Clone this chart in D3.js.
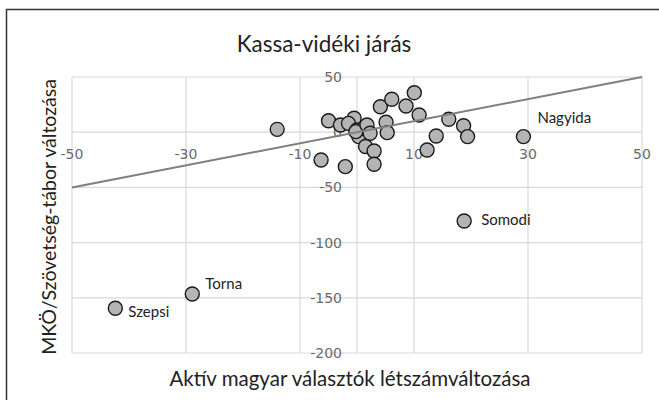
<!DOCTYPE html>
<html lang="hu">
<head>
<meta charset="UTF-8">
<title>Kassa-vidéki járás</title>
<script src="https://d3js.org/d3.v7.min.js"></script>
<style>
  body{margin:0;background:#fff}
  svg{display:block}
  .tick-lbl{font-family:"DejaVu Sans",sans-serif;font-size:14px;fill:#6a6a6a}
  .cal{font-family:Lato,"Open Sans",sans-serif;fill:#222}
</style>
</head>
<body>
<div id="chart"></div>
<script>
/* --- adatok --- */
const xVals=[-14.0,-5.0,-6.3,-2.05,-2.9,-0.5,-1.5,0,0.6,1.0,0.3,1.2,-0.2,1.75,2.3,1.5,3.0,3.0,
             4.1,6.1,5.1,5.3,8.6,10.05,10.9,12.3,13.9,16.1,18.7,19.4,29.2,-28.9,-42.4,18.8];
const yVals=[2.6,10.4,-25.2,-31.2,6.5,12.6,8,2,-1,0.5,-4,3.5,0.5,6.5,-1,-13,-17,-29,
             23,29.8,9,-0.4,23.7,35.8,15.6,-16.1,-3.4,11.7,5.9,-4.0,-4.0,-146.6,-159.5,-80.4];
const names=["","","","","","","","","","","","","","","","","","",
             "","","","","","","","","","","","","Nagyida","Torna","Szepsi","Somodi"];
const xTicks=[-50,-30,-10,10,30,50];
const yTicks=[50,0,-50,-100,-150,-200];
const lineX=[-50,50], lineY=[-50,50];

const W=659,H=400;
const svg=d3.select("#chart").append("svg").attr("width",W).attr("height",H);

// keret
svg.append("rect").attr("x",6.5).attr("y",9.5).attr("width",W).attr("height",H)
   .attr("fill","none").attr("stroke","#333").attr("stroke-width",1.5);

const x=d3.scaleLinear().domain([-50,50]).range([72,642]);
const y=d3.scaleLinear().domain([-200,50]).range([353,77]);

/* --- rácsvonalak --- */
const grid=svg.append("g").attr("stroke","#d9d9d9").attr("stroke-width",1.2);
xTicks.concat([0]).forEach(t=>grid.append("line")
  .attr("x1",x(t)).attr("x2",x(t)).attr("y1",y(50)).attr("y2",y(-200)));
yTicks.forEach(t=>grid.append("line")
  .attr("x1",x(-50)).attr("x2",x(50)).attr("y1",y(t)).attr("y2",y(t)));

/* --- tengelyfeliratok --- */
svg.append("g").selectAll("text").data(xTicks).join("text")
   .attr("class","tick-lbl").attr("text-anchor","middle")
   .attr("x",d=>x(d)).attr("y",y(0)+27).text(d=>d);
svg.append("g").selectAll("text").data(yTicks).join("text")
   .attr("class","tick-lbl").attr("text-anchor","end")
   .attr("x",x(0)-15).attr("y",d=>y(d)+5).text(d=>d);

/* --- pontok --- */
const pts=xVals.map((v,i)=>({x:v,y:yVals[i],name:names[i]}));
svg.append("g").selectAll("circle").data(pts).join("circle")
   .attr("cx",d=>x(d.x)).attr("cy",d=>y(d.y)).attr("r",7)
   .attr("fill","#b4b4b4").attr("stroke","#1a1a1a").attr("stroke-width",1.4);

/* --- átló --- */
svg.append("line")
   .attr("x1",x(lineX[0])).attr("y1",y(lineY[0]))
   .attr("x2",x(lineX[1])).attr("y2",y(lineY[1]))
   .attr("stroke","#7f7f7f").attr("stroke-width",2);

/* --- pontfeliratok --- */
const off={Nagyida:[14,-14],Torna:[13,-5],Szepsi:[13,9],Somodi:[17,4]};
svg.append("g").selectAll("text").data(pts.filter(d=>d.name)).join("text")
   .attr("class","cal").style("font-size","15px")
   .attr("x",d=>x(d.x)+off[d.name][0]).attr("y",d=>y(d.y)+off[d.name][1])
   .text(d=>d.name);

/* --- címek --- */
svg.append("text").attr("class","cal").attr("text-anchor","middle")
   .style("font-size","22.5px").attr("x",324).attr("y",52).text("Kassa-vidéki járás");
svg.append("text").attr("class","cal").attr("text-anchor","middle")
   .style("font-size","20.5px").attr("x",350).attr("y",386)
   .text("Aktív magyar választók létszámváltozása");
svg.append("text").attr("class","cal").attr("text-anchor","middle")
   .style("font-size","19.5px").attr("transform","translate(56,217) rotate(-90)")
   .text("MKÖ/Szövetség-tábor változása");
</script>
</body>
</html>
